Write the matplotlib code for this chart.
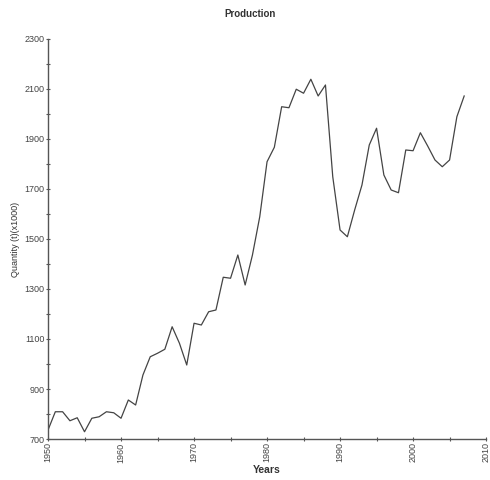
import numpy as np
import matplotlib.pyplot as plt
from matplotlib.ticker import MultipleLocator

years = np.arange(1950, 2008)
production = [736, 809, 809, 773, 785, 729, 783, 789, 809, 805,
              783, 856, 836, 956, 1029, 1043, 1059, 1149, 1083, 996,
              1163, 1156, 1209, 1216, 1347, 1343, 1436, 1316, 1436, 1589,
              1809, 1867, 2029, 2025, 2099, 2083, 2139, 2072, 2116, 1749,
              1536, 1509, 1616, 1716, 1876, 1943, 1756, 1696, 1685, 1856,
              1853, 1925, 1872, 1816, 1789, 1816, 1989, 2072]
y_ticks = np.arange(700, 2301, 200)

plt.rcParams['font.family'] = ['Liberation Sans', 'DejaVu Sans']
fig = plt.figure(figsize=(4.9, 4.8), dpi=100)
ax = fig.add_axes([0.098, 0.0854, 0.894, 0.8334])

ax.plot(years, production, color='#444444', linewidth=0.9)

ax.set_xlim(1950, 2010)
ax.set_ylim(700, 2300)
ax.xaxis.set_major_locator(MultipleLocator(10))
ax.xaxis.set_minor_locator(MultipleLocator(5))
ax.set_yticks(y_ticks)
ax.yaxis.set_minor_locator(MultipleLocator(100))
ax.tick_params(which='both', direction='inout', length=3, width=0.8,
               color='#555555', labelsize=6.5, labelcolor='#444444', pad=1)
plt.setp(ax.get_xticklabels(), rotation=90)

for s in ['top', 'right']:
    ax.spines[s].set_visible(False)
for s in ['left', 'bottom']:
    ax.spines[s].set_color('#555555')
    ax.spines[s].set_linewidth(1)

ax.set_xlabel('Years', fontsize=7.5, fontweight='bold', color='#333333', labelpad=2)
ax.set_ylabel('Quantity (t)(x1000)', fontsize=6.5, color='#333333', labelpad=3)
fig.text(250 / 490, 1 - 14 / 480, 'Production', ha='center', va='center',
         fontsize=7, fontweight='bold', color='#333333')

fig.savefig('out.png', dpi=100)
